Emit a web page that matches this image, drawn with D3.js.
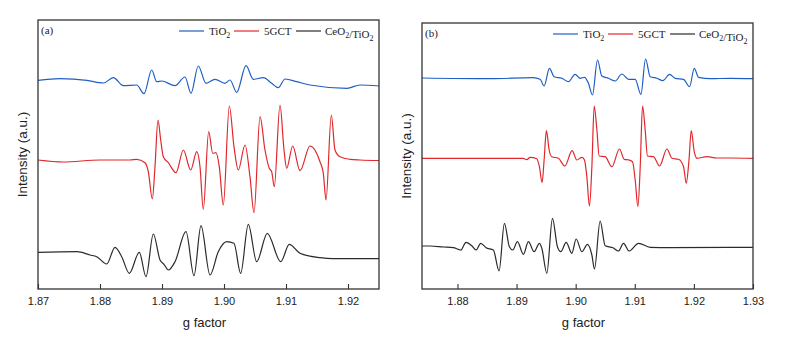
<!DOCTYPE html>
<html><head><meta charset="utf-8">
<script src="https://cdn.jsdelivr.net/npm/d3@7"></script>
<style>body{margin:0;background:#fff}</style>
</head><body><svg id="c" width="794" height="353"></svg>
<script>
// ---- data: [g factor, intensity (a.u., offset traces)] ----
const seriesNames = ["TiO2", "5GCT", "CeO2/TiO2"];
const xTicksA = [1.87, 1.88, 1.89, 1.90, 1.91, 1.92];
const xTicksB = [1.88, 1.89, 1.90, 1.91, 1.92, 1.93];

const aTiO2 = [[1.8700,208.7],[1.87355,210.3],[1.8779,208.7],[1.88053,206],[1.88215,211.3],[1.88376,203.3],[1.88592,204],[1.8871,195.3],[1.88834,219],[1.88915,207.3],[1.88995,208],[1.8921,203.3],[1.89371,212],[1.89468,195.7],[1.89585,223],[1.8971,205.7],[1.89855,209.7],[1.90016,205.7],[1.90097,209],[1.90205,196.7],[1.90355,223.3],[1.90473,209.7],[1.90634,211.3],[1.90769,205.7],[1.90876,201.3],[1.90984,210],[1.91173,207.3],[1.91387,204],[1.91984,200.7],[1.92194,204],[1.925,203]];
const a5GCT = [[1.8700,129],[1.87403,127],[1.8800,129],[1.88484,129],[1.88592,129.7],[1.88726,126.3],[1.88779,117.3],[1.88844,90],[1.88887,122.3],[1.88935,169],[1.88979,149],[1.89021,132.3],[1.89102,126.3],[1.89226,116.3],[1.89344,139],[1.89463,119],[1.8956,137.3],[1.89613,122.3],[1.89666,79.7],[1.89753,157.3],[1.89818,135.7],[1.89871,136.3],[1.89924,122.3],[1.89989,84],[1.90086,183],[1.90161,142.3],[1.90231,119],[1.90339,144],[1.90419,112.3],[1.90484,76.3],[1.90581,172.3],[1.90661,139],[1.90731,120.7],[1.90769,117.3],[1.90811,102.3],[1.90903,184],[1.90968,139],[1.91011,120.7],[1.91108,143],[1.91226,118.3],[1.91387,143],[1.91548,127.3],[1.91602,115.7],[1.91645,89],[1.91731,174],[1.9179,139],[1.91871,132.3],[1.92032,129.7],[1.92194,129],[1.925,128.5]];
const aCeTi = [[1.8700,36.7],[1.87629,37.3],[1.87839,34],[1.87947,32.3],[1.88108,25],[1.88242,41.7],[1.8835,32.3],[1.88473,15.7],[1.88634,36.7],[1.88742,12.3],[1.8886,55],[1.88968,29],[1.89032,24.7],[1.89102,19],[1.8921,27.3],[1.89387,57.3],[1.89516,13.3],[1.89629,63.3],[1.89774,14],[1.89908,37.3],[1.90044,47.3],[1.90161,45.7],[1.90269,15.7],[1.90392,64.7],[1.90527,27.3],[1.90698,55.7],[1.90915,27.3],[1.91053,44.7],[1.91226,35.7],[1.91548,31.3],[1.91758,30.3],[1.925,30.3]];

const bTiO2 = [[1.874,211],[1.88552,210.3],[1.8928,211.3],[1.89398,209.7],[1.89466,203],[1.89556,220.7],[1.89635,212.3],[1.89766,210.7],[1.89878,207.3],[1.89991,214.7],[1.90076,210.7],[1.90149,211.7],[1.90216,205.7],[1.90284,194],[1.90369,229],[1.90443,213],[1.90555,210.7],[1.90668,208],[1.90782,215],[1.90894,209.7],[1.91007,209.7],[1.91104,194.7],[1.91182,230],[1.91261,212.3],[1.91375,210.7],[1.91476,208.3],[1.91588,214.7],[1.91685,210.7],[1.91825,209.7],[1.91927,202.3],[1.92006,220.7],[1.92079,211.7],[1.92277,210.3],[1.92616,210.7],[1.93,210.3]];
const b5GCT = [[1.874,130.7],[1.8911,130.7],[1.89173,129.3],[1.89229,131.7],[1.89342,130.3],[1.89386,122.3],[1.89432,106.3],[1.89466,129],[1.89505,158.3],[1.89551,139],[1.89596,132.3],[1.89708,130.7],[1.89817,123],[1.8994,138.3],[1.9002,129],[1.90105,131.7],[1.90149,129],[1.90189,112.3],[1.90233,83],[1.90274,122.3],[1.90313,183],[1.90359,159],[1.90397,133],[1.90499,132.3],[1.90612,122.3],[1.90741,140],[1.90821,129.7],[1.90905,129],[1.90961,127.3],[1.91007,109],[1.91053,82.3],[1.91092,122.3],[1.91131,183],[1.91176,159],[1.91215,133],[1.91317,132.3],[1.91419,123],[1.91544,140],[1.91629,130.7],[1.9174,129.7],[1.91825,122.3],[1.91871,105.7],[1.91917,129],[1.91955,158.3],[1.92006,137.3],[1.92052,130.7],[1.92221,132.3],[1.92391,131],[1.92616,131],[1.93,130.7]];
const bCeTi = [[1.874,43],[1.87535,43],[1.87761,42],[1.8793,41.3],[1.88055,39],[1.88145,46.7],[1.88242,43.3],[1.88314,39],[1.88394,45.7],[1.88484,41.3],[1.88607,39],[1.88704,18],[1.88794,65.7],[1.88878,42.3],[1.88936,39],[1.89014,47.3],[1.89116,34.7],[1.892,47.3],[1.89297,37.3],[1.89386,45.7],[1.89427,40.7],[1.89512,15.7],[1.89607,70.7],[1.89691,42.3],[1.89749,37.3],[1.89839,46.7],[1.89935,35.7],[1.90008,50],[1.90105,37.3],[1.90199,44.7],[1.90274,34],[1.90318,20],[1.90414,68],[1.90499,43.3],[1.9063,41.3],[1.90724,38],[1.90809,45.7],[1.90905,38],[1.91063,45.7],[1.91261,41.7],[1.916,41.3],[1.93,41.7]];

const colors = ["#1f5fc4", "#e0282c", "#2b2b2b"];

const svg = d3.select("#c");

function panel(opt) {
  const g = svg.append("g");
  const x = d3.scaleLinear().domain(opt.xDomain).range([opt.left, opt.right]);
  const y = d3.scaleLinear().domain([0, opt.bottom - opt.top]).range([opt.bottom, opt.top]);
  const line = d3.line().x(d => x(d[0])).y(d => y(d[1])).curve(d3.curveMonotoneX);
  opt.series.forEach((s, i) => {
    g.append("path").datum(s).attr("d", line).attr("fill", "none")
      .attr("stroke", colors[i]).attr("stroke-width", 1.2).attr("stroke-linejoin", "round");
  });
  // frame
  g.append("rect").attr("x", opt.left).attr("y", opt.top)
    .attr("width", opt.right - opt.left).attr("height", opt.bottom - opt.top)
    .attr("fill", "none").attr("stroke", "#333").attr("stroke-width", 1.3);
  // x axis
  const ax = g.append("g").attr("transform", `translate(0,${opt.bottom})`)
    .call(d3.axisBottom(x).tickValues(opt.ticks).tickSize(-5).tickPadding(8).tickFormat(d3.format(".2f")));
  ax.select(".domain").remove();
  ax.selectAll("line").attr("stroke", "#333").attr("stroke-width", 1.1);
  ax.selectAll("text").attr("font-family", "Liberation Sans, Arial, sans-serif").attr("font-size", 11).attr("fill", "#222");
  g.append("text").attr("x", (opt.left + opt.right) / 2 - 4).attr("y", opt.bottom + 38)
    .attr("text-anchor", "middle").attr("font-family", "Liberation Sans, Arial, sans-serif")
    .attr("font-size", 13).attr("fill", "#222").text("g factor");
  g.append("text").attr("transform", `translate(${opt.left - 11},${(opt.top + opt.bottom) / 2}) rotate(-90)`)
    .attr("text-anchor", "middle").attr("font-family", "Liberation Sans, Arial, sans-serif")
    .attr("font-size", 13.5).attr("fill", "#222").text("Intensity (a.u.)");
  // panel tag
  g.append("text").attr("x", opt.left + 3).attr("y", opt.top + 14)
    .attr("font-family", "Liberation Serif, Times New Roman, serif").attr("font-size", 11).attr("fill", "#222").text(opt.tag);
  // legend
  const ly = opt.top + 11;
  const items = [{c: 0, l0: -200, l1: -175, t: -170}, {c: 1, l0: -145, l1: -120, t: -115}, {c: 2, l0: -83, l1: -58, t: -54}];
  items.forEach(it => {
    g.append("line").attr("x1", opt.right + it.l0).attr("x2", opt.right + it.l1).attr("y1", ly).attr("y2", ly)
      .attr("stroke", colors[it.c]).attr("stroke-width", 1.2);
    const t = g.append("text").attr("x", opt.right + it.t).attr("y", ly + 4)
      .attr("font-family", "Liberation Serif, Times New Roman, serif").attr("font-size", 11).attr("fill", "#222");
    const name = seriesNames[it.c];
    // subscript the "2" that follows "O" (chemical formula)
    const parts = name.split(/(?<=O)(2)/);
    parts.forEach((p, k) => {
      if (p === "") return;
      if (k % 2 === 1) {
        t.append("tspan").attr("font-size", 8).attr("dy", 3).text(p);
        t.append("tspan").attr("dy", -3).text("");
      } else t.append("tspan").text(p);
    });
  });
}

panel({left: 38, right: 379, top: 20, bottom: 289, xDomain: [1.87, 1.925], ticks: xTicksA, tag: "(a)", series: [aTiO2, a5GCT, aCeTi]});
panel({left: 422, right: 753, top: 23, bottom: 289, xDomain: [1.874, 1.93], ticks: xTicksB, tag: "(b)", series: [bTiO2, b5GCT, bCeTi]});
</script>
</body></html>
